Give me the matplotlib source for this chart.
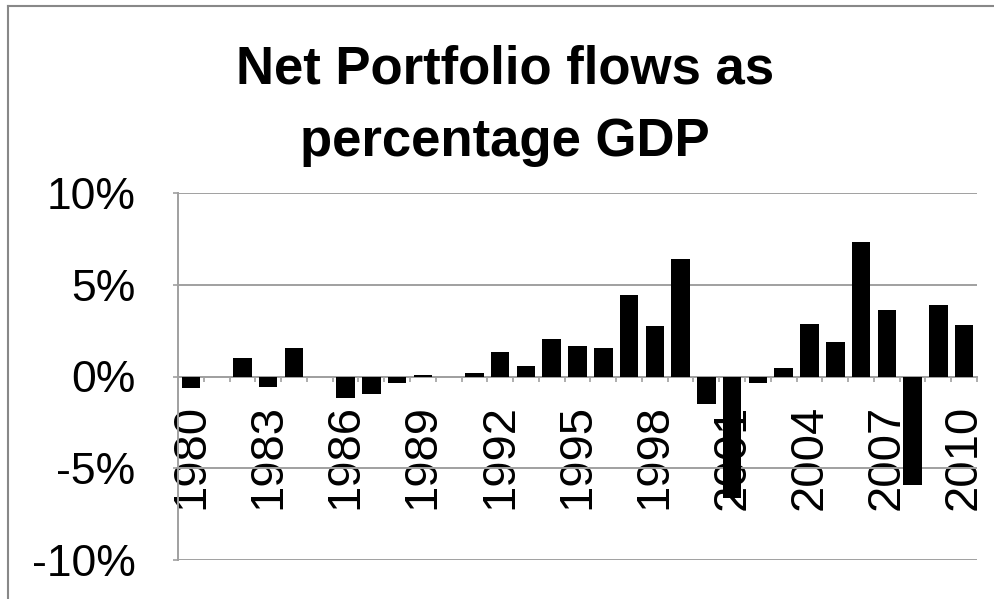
import matplotlib.pyplot as plt
from matplotlib.lines import Line2D
from matplotlib.ticker import FixedLocator

plt.rcParams['font.family'] = ['Liberation Sans', 'DejaVu Sans']

# Net portfolio flows, % of GDP, 1980-2010
years = list(range(1980, 2011))
flows = [-0.64, 0.0, 1.00, -0.58, 1.58, 0.0, -1.15, -0.93, -0.36, 0.09,
         0.0, 0.20, 1.33, 0.56, 2.05, 1.64, 1.53, 4.44, 2.75, 6.42,
         -1.51, -6.64, -0.36, 0.49, 2.84, 1.89, 7.33, 3.62, -5.93, 3.89,
         2.78]
label_years = years[::3]
y_ticks = [-10, -5, 0, 5, 10]

GRID = '#a0a0a0'
W, H = 994, 599

fig = plt.figure(figsize=(W / 100, H / 100), dpi=100)
ax = fig.add_axes([178 / W, 1 - 560 / H, (977 - 178) / W, (560 - 193) / H])

pos = list(range(len(years)))
ax.bar(pos, flows, width=0.72, color='black', zorder=3)

ax.set_xlim(-0.5, len(years) - 0.5)
ax.set_ylim(-10, 10)

# value axis
ax.set_yticks(y_ticks)
ax.set_yticklabels([f'{v}%' for v in y_ticks], fontsize=32)
ax.yaxis.grid(True, color=GRID, lw=1.4)
ax.set_axisbelow(True)
ax.tick_params(axis='y', length=3.6, width=1.2, color=GRID, pad=27)

# category axis sits on the zero line
for s in ['top', 'right']:
    ax.spines[s].set_visible(False)
ax.spines['left'].set_color(GRID)
ax.spines['left'].set_linewidth(1.4)
ax.spines['bottom'].set_position(('data', 0))
ax.spines['bottom'].set_color(GRID)
ax.spines['bottom'].set_linewidth(1.4)

ax.set_xticks([years.index(y) for y in label_years])
ax.set_xticklabels([str(y) for y in label_years], rotation=90, fontsize=34)
ax.xaxis.set_minor_locator(FixedLocator([p + 0.5 for p in pos]))
ax.tick_params(axis='x', which='major', length=0, pad=20)
ax.tick_params(axis='x', which='minor', length=3.6, width=1.2, color=GRID)

# two-line title
fig.text(505 / W, 1 - 84 / H, 'Net Portfolio flows as', ha='center',
         va='baseline', fontsize=38, fontweight='bold')
fig.text(505 / W, 1 - 156 / H, 'percentage GDP', ha='center',
         va='baseline', fontsize=38, fontweight='bold')

# chart area border (top and left edges)
fig.add_artist(Line2D([8 / W, 1], [1 - 6 / H, 1 - 6 / H],
                      transform=fig.transFigure, color='#888888', lw=1.5))
fig.add_artist(Line2D([8 / W, 8 / W], [0, 1 - 6 / H],
                      transform=fig.transFigure, color='#888888', lw=1.5))

fig.savefig('out.png', dpi=100)
